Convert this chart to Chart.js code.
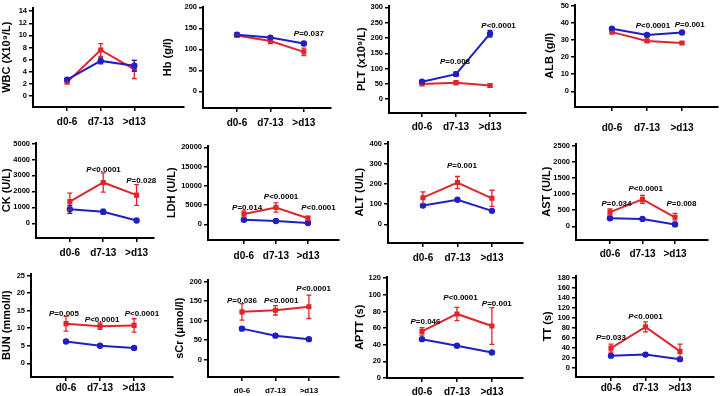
<!DOCTYPE html>
<html>
<head>
<meta charset="utf-8">
<script src="https://cdn.jsdelivr.net/npm/chart.js@4.4.0/dist/chart.umd.min.js"></script>
<style>
  html, body { margin: 0; padding: 0; background: #fff; }
  #wrap { position: relative; width: 724px; height: 396px; overflow: hidden; background: #fff; }
  #wrap canvas { position: absolute; }
</style>
</head>
<body>
<div id="wrap"></div>
<script>
const categories = ['d0-6', 'd7-13', '>d13'];
const panelTitles = ['WBC (X10⁹/L)', 'Hb (g/l)', 'PLT (x10⁹/L)', 'ALB (g/l)',
                     'CK (U/L)', 'LDH (U/L)', 'ALT (U/L)', 'AST (U/L)',
                     'BUN (mmol/l)', 'sCr (μmol/l)', 'APTT (s)', 'TT (s)'];

const blueMeans = [
  [2.7, 5.8, 5.0], [135, 128, 114], [57, 82, 214], [36.5, 32.8, 34.3],
  [880, 730, 180], [1200, 900, 350], [93, 122, 67], [250, 230, 60],
  [6.2, 5.0, 4.4], [79, 61, 52], [46.7, 38.8, 30.6], [25, 27, 18]
];
const blueErrors = [
  [0.2, 0.5, 0.9], [4, 3, 3], [4, 7, 11], [0.6, 0.5, 0.5],
  [250, 150, 50], [250, 150, 100], [5, 5, 4], [30, 25, 15],
  [0.3, 0.2, 0.2], [4, 3, 2], [1, 1, 1], [2, 2, 2]
];
const redMeans = [
  [2.3, 7.6, 4.4], [133, 120, 94], [50, 54, 45], [34.5, 29.4, 28.2],
  [1360, 2560, 1770], [2700, 4400, 1600], [132, 207, 129], [440, 834, 280],
  [11.3, 10.6, 10.8], [122, 126, 135], [56, 77, 62.5], [40, 82, 33.5]
];
const redErrors = [
  [0.2, 1.05, 1.5], [4, 6, 9], [5, 6, 6], [0.6, 0.6, 0.6],
  [530, 600, 650], [800, 1200, 550], [29, 30, 40], [100, 120, 120],
  [2.1, 0.9, 1.9], [21, 12, 30], [4.5, 8, 22], [8, 10, 14.5]
];
const yTickMax = [14, 200, 300, 50, 5000, 20000, 400, 2500, 25, 200, 120, 180];
const yTickStep = [2, 50, 50, 10, 1000, 5000, 100, 500, 5, 50, 20, 20];

// P-value notes: [category position, y value, text]
const pLabels = [
  [],
  [[2.15, 137, 'P=0.037']],
  [[0.97, 121, 'P=0.008'], [2.25, 240, 'P<0.0001']],
  [[1.17, 38, 'P<0.0001'], [2.22, 39, 'P=0.001']],
  [[1.01, 3350, 'P<0.0001'], [2.14, 2680, 'P=0.028']],
  [[0.1, 4300, 'P=0.014'], [1.16, 7100, 'P<0.0001'], [2.33, 4300, 'P<0.0001']],
  [[1.13, 289, 'P=0.001']],
  [[0.2, 690, 'P=0.034'], [1.1, 1175, 'P<0.0001'], [2.2, 690, 'P=0.008']],
  [[-0.06, 14.2, 'P=0.005'], [1.06, 12.5, 'P<0.0001'], [2.23, 14.2, 'P<0.0001']],
  [[0, 150, 'P=0.036'], [1.17, 150, 'P<0.0001'], [2.14, 180, 'P<0.0001']],
  [[0.1, 68, 'P=0.046'], [1.1, 96, 'P<0.0001'], [2.14, 89, 'P=0.001']],
  [[0, 60, 'P=0.033'], [1, 102, 'P<0.0001']]
];

// panel placement in page pixels
const layout = [
  { left: 0,   axisX: 33,  xEnd: 188, top: 5,   axisY: 107, cat0: 68,  dx: 34.5, yMin: -1.8,  yMax: 14.6,  lab: 15, xFont: 10 },
  { left: 161, axisX: 203, xEnd: 335, top: 4,   axisY: 108, cat0: 238, dx: 34.5, yMin: -39.5, yMax: 202,   lab: 15, xFont: 10 },
  { left: 355, axisX: 389, xEnd: 530, top: 3,   axisY: 113, cat0: 423, dx: 35,   yMin: -45,   yMax: 306,   lab: 14, xFont: 10 },
  { left: 543, axisX: 575, xEnd: 722, top: 2,   axisY: 107, cat0: 613, dx: 36,   yMin: -9.1,  yMax: 50.6,  lab: 21, xFont: 10 },
  { left: 0,   axisX: 36,  xEnd: 158, top: 140, axisY: 238, cat0: 71,  dx: 34.5, yMin: -915,  yMax: 5060,  lab: 15, xFont: 10 },
  { left: 165, axisX: 208, xEnd: 343, top: 143, axisY: 240, cat0: 245, dx: 33,   yMin: -4050, yMax: 20500, lab: 16, xFont: 10 },
  { left: 353, axisX: 388, xEnd: 527, top: 139, axisY: 243, cat0: 424, dx: 35.5, yMin: -92,   yMax: 410,   lab: 15, xFont: 10 },
  { left: 540, axisX: 576, xEnd: 712, top: 141, axisY: 240, cat0: 611, dx: 33.5, yMin: -422,  yMax: 2560,  lab: 14, xFont: 10 },
  { left: 0,   axisX: 31,  xEnd: 177, top: 271, axisY: 377, cat0: 67,  dx: 35,   yMin: -3.9,  yMax: 25.6,  lab: 11, xFont: 10 },
  { left: 173, axisX: 208, xEnd: 343, top: 277, axisY: 377, cat0: 243, dx: 34.5, yMin: -45,   yMax: 205,   lab: 14, xFont: 8 },
  { left: 353, axisX: 387, xEnd: 527, top: 274, axisY: 378, cat0: 423, dx: 36,   yMin: 0,     yMax: 122,   lab: 14, xFont: 10 },
  { left: 541, axisX: 576, xEnd: 718, top: 273, axisY: 377, cat0: 612, dx: 35.5, yMin: -17.4, yMax: 184,   lab: 11, xFont: 10 }
];

const BLUE = '#1f1fc4';
const RED = '#e0262b';
const FONT = '"Liberation Sans", Arial, sans-serif';
const PAD_TOP = 4;
const X_AXIS_H = 28;

const errorBars = {
  id: 'errorBars',
  afterDatasetsDraw(chart) {
    const ctx = chart.ctx;
    const xs = chart.scales.x, ys = chart.scales.y;
    chart.data.datasets.slice().reverse().forEach(ds => {
      ctx.save();
      ctx.strokeStyle = ds.borderColor;
      ctx.lineWidth = 1.3;
      ds.data.forEach((p, i) => {
        const e = ds.errors[i];
        const x = xs.getPixelForValue(p.x);
        const y1 = ys.getPixelForValue(p.y - e);
        const y2 = ys.getPixelForValue(p.y + e);
        ctx.beginPath();
        ctx.moveTo(x, y1); ctx.lineTo(x, y2);
        ctx.moveTo(x - 2.5, y1); ctx.lineTo(x + 2.5, y1);
        ctx.moveTo(x - 2.5, y2); ctx.lineTo(x + 2.5, y2);
        ctx.stroke();
      });
      ctx.restore();
    });
  }
};

function makePText(items) {
  return {
    id: 'pText',
    afterDraw(chart) {
      const ctx = chart.ctx;
      items.forEach(([cx, v, txt]) => {
        const x = chart.scales.x.getPixelForValue(cx);
        const y = chart.scales.y.getPixelForValue(v);
        const head = txt[0], tail = txt.slice(1);
        ctx.save();
        ctx.fillStyle = '#000';
        ctx.textBaseline = 'middle';
        ctx.font = 'italic bold 8px ' + FONT;
        const w1 = ctx.measureText(head).width;
        ctx.font = 'bold 8px ' + FONT;
        const w2 = ctx.measureText(tail).width;
        const sx = x - (w1 + w2) / 2;
        ctx.font = 'italic bold 8px ' + FONT;
        ctx.fillText(head, sx, y);
        ctx.font = 'bold 8px ' + FONT;
        ctx.fillText(tail, sx + w1, y);
        ctx.restore();
      });
    }
  };
}

const wrap = document.getElementById('wrap');

layout.forEach((L, k) => {
  const canvas = document.createElement('canvas');
  const cTop = L.top - PAD_TOP;
  const w = L.xEnd - L.left + 2;
  const h = L.axisY - cTop + X_AXIS_H;
  canvas.width = w;
  canvas.height = h;
  canvas.style.left = L.left + 'px';
  canvas.style.top = cTop + 'px';
  canvas.style.width = w + 'px';
  canvas.style.height = h + 'px';
  wrap.appendChild(canvas);

  const yTicks = [];
  for (let v = 0; v <= yTickMax[k] + 1e-9; v += yTickStep[k]) yTicks.push(v);

  new Chart(canvas.getContext('2d'), {
    type: 'line',
    data: {
      datasets: [
        {
          data: blueMeans[k].map((v, i) => ({ x: i, y: v })),
          errors: blueErrors[k],
          borderColor: BLUE,
          backgroundColor: BLUE,
          borderWidth: 2,
          pointStyle: 'circle',
          pointRadius: 2.2,
          tension: 0
        },
        {
          data: redMeans[k].map((v, i) => ({ x: i, y: v })),
          errors: redErrors[k],
          borderColor: RED,
          backgroundColor: RED,
          borderWidth: 2,
          pointStyle: 'rect',
          pointRadius: 2.2,
          tension: 0
        }
      ]
    },
    options: {
      responsive: false,
      animation: false,
      devicePixelRatio: 1,
      layout: { padding: { top: PAD_TOP, right: 2, left: 0, bottom: 0 } },
      plugins: { legend: { display: false }, tooltip: { enabled: false } },
      scales: {
        x: {
          type: 'linear',
          min: -(L.cat0 - L.axisX) / L.dx,
          max: (L.xEnd - L.cat0) / L.dx,
          afterBuildTicks: s => { s.ticks = [0, 1, 2].map(v => ({ value: v })); },
          afterFit: s => { s.height = X_AXIS_H; },
          grid: { drawOnChartArea: false, drawTicks: true, tickLength: 4, color: '#000', lineWidth: 1.5 },
          border: { color: '#000', width: 2 },
          ticks: {
            callback: v => categories[v],
            color: '#000',
            font: { family: FONT, size: L.xFont, weight: 'bold' },
            padding: L.lab - 4 - L.xFont / 2 - 1,
            maxRotation: 0,
            autoSkip: false
          }
        },
        y: {
          min: L.yMin,
          max: L.yMax,
          afterBuildTicks: s => { s.ticks = yTicks.map(v => ({ value: v })); },
          afterFit: s => { s.width = L.axisX - L.left; },
          grid: { drawOnChartArea: false, drawTicks: true, tickLength: 4, color: '#000', lineWidth: 1.5 },
          border: { color: '#000', width: 2 },
          ticks: {
            callback: v => String(v),
            autoSkip: false,
            color: '#000',
            font: { family: FONT, size: 7.5, weight: 'bold' },
            padding: 2
          },
          title: {
            display: true,
            text: panelTitles[k],
            color: '#000',
            font: { family: FONT, size: 11, weight: 'bold' },
            padding: { top: 0, bottom: 0 }
          }
        }
      }
    },
    plugins: [errorBars, makePText(pLabels[k])]
  });
});
</script>
</body>
</html>
